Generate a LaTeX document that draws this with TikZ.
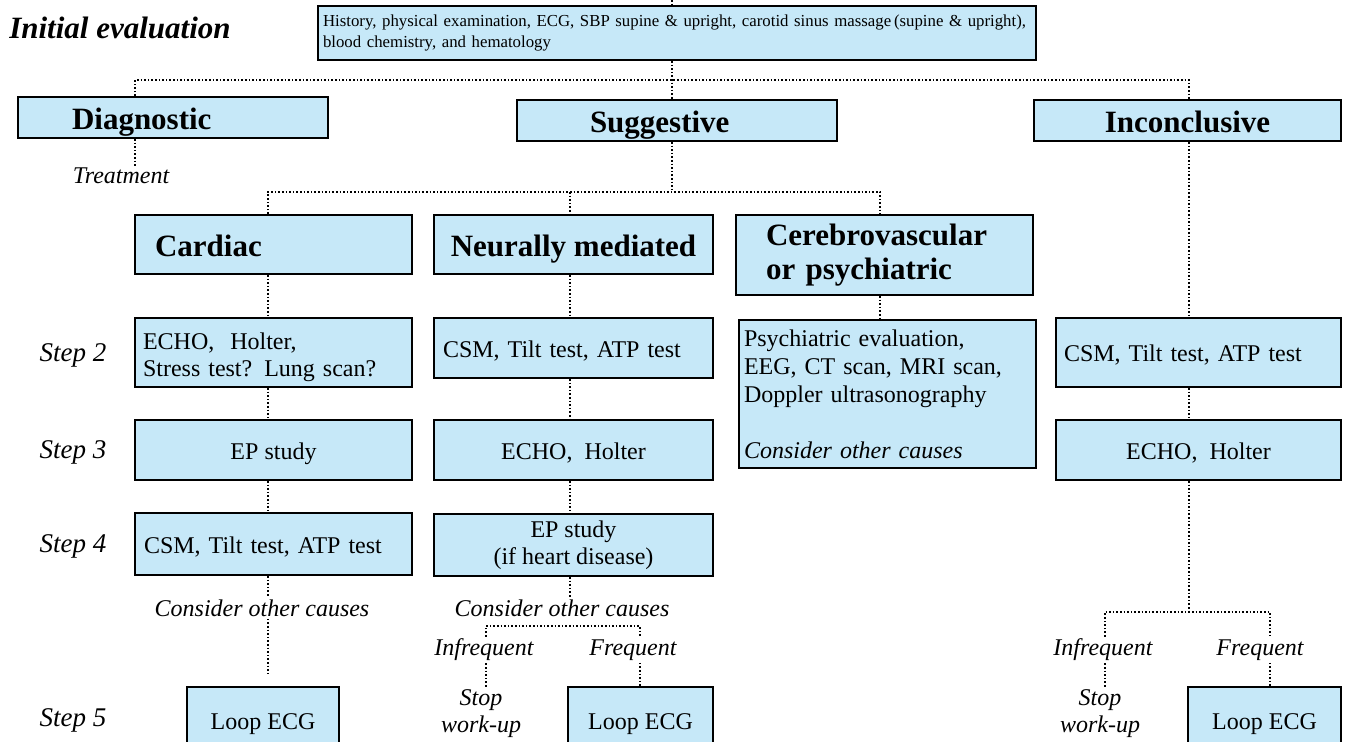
\documentclass[tikz,border=0pt]{standalone}
\usepackage{fontspec}
\setmainfont{Liberation Serif}
\definecolor{boxblue}{RGB}{198,232,248}

\begin{document}
\begin{tikzpicture}[x=0.5pt, y=-0.5pt,
    box/.style={draw, line width=1pt, fill=boxblue, inner ysep=0pt, font=\fontsize{12}{13.5}\selectfont},
    oneline/.style={text height=9.4pt, text depth=0pt},
    head/.style={box, font=\fontsize{15.5}{17}\selectfont\bfseries},
    headone/.style={head, text height=11.8pt, text depth=0pt},
    lab/.style={inner sep=1pt, font=\fontsize{12}{13.5}\selectfont\itshape},
    steplab/.style={inner sep=1pt, font=\fontsize{13.5}{15}\selectfont\itshape},
    link/.style={densely dotted, line width=0.8pt}]

\path[use as bounding box] (0,0) rectangle (1352,742);
\clip (0,0) rectangle (1352,742);

% Initial evaluation
\node[inner sep=1pt, font=\fontsize{15.5}{17}\selectfont\bfseries\itshape] (initlab) at (120,28) {Initial evaluation};
\node[box, font=\fontsize{8.4}{10.5}\selectfont, align=left, text width=354pt, inner xsep=2.5pt, minimum height=27pt] (init) at (677,33)
    {History, physical examination, ECG, SBP supine \& upright, carotid sinus massage\,(supine \& upright),\\blood chemistry, and hematology};

% First split
\coordinate (top) at (672,0);
\coordinate (j1) at (672,80);
\coordinate (j1l) at (135,80);
\coordinate (j1r) at (1189,80);

\node[headone, align=left, text width=101pt, inner xsep=27pt, minimum height=20.5pt] (diag) at (173,117.5) {Diagnostic};
\node[headone, align=left, text width=87pt, inner xsep=36.5pt, minimum height=20.5pt] (sugg) at (677,120.5) {Suggestive};
\node[headone, minimum width=153.5pt, minimum height=20.5pt] (inconc) at (1187.5,120.5) {Inconclusive};
\node[lab] (treat) at (121,176) {Treatment};

\draw[link] (top) -- (init.north -| top);
\draw[link] (init.south -| top) -- (sugg.north -| top);
\draw[link] (j1l |- diag.north) -- (j1l) -- (j1r) -- (j1r |- inconc.north);
\draw[link] (j1l |- diag.south) -- (j1l |- treat.north);

% Second split
\coordinate (j2) at (672,192);
\coordinate (j2a) at (268,192);
\coordinate (j2b) at (570,192);
\coordinate (j2c) at (880,192);

\node[headone, align=left, text width=118.5pt, inner xsep=10pt, minimum height=29.5pt] (cardiac) at (273.5,244.5) {Cardiac};
\node[headone, minimum width=139.5pt, minimum height=29.5pt] (neural) at (573.5,244.5) {Neurally mediated};
\node[head, align=left, text width=118.5pt, inner xsep=15pt, minimum height=40pt] (cere) at (884.5,255) {Cerebrovascular\\or psychiatric};

\draw[link] (sugg.south -| j2) -- (j2);
\draw[link] (j2a |- cardiac.north) -- (j2a) -- (j2c) -- (j2c |- cere.north);
\draw[link] (j2b) -- (j2b |- neural.north);

% Step labels
\node[steplab] (s2) at (73,355) {Step 2};
\node[steplab] (s3) at (73,452) {Step 3};
\node[steplab] (s4) at (73,546) {Step 4};
\node[steplab] (s5) at (73,720) {Step 5};

% Step 2
\node[box, align=left, text width=130.5pt, inner xsep=4pt, minimum height=34.5pt, text height=9.4pt, text depth=12.6pt] (c2) at (273.5,352.5) {ECHO,\ \ Holter,\\Stress test? Lung scan?};
\node[box, oneline, align=left, text width=130.5pt, inner xsep=4.5pt, minimum height=30pt] (n2) at (573.5,348) {CSM, Tilt test, ATP test};
\node[box, font=\fontsize{12}{14}\selectfont, align=left, text width=143.5pt, inner xsep=2.5pt, minimum height=74pt] (p2) at (887.5,394)
    {Psychiatric evaluation,\\EEG, CT scan, MRI scan,\\Doppler ultrasonography\\[14pt]\textit{Consider other causes}};
\node[box, oneline, align=left, text width=134.5pt, inner xsep=4pt, minimum height=34.5pt] (i2) at (1198.5,352.5) {CSM, Tilt test, ATP test};

% Step 3
\node[box, oneline, minimum width=138.5pt, minimum height=30pt] (c3) at (273.5,450) {EP study};
\node[box, oneline, minimum width=139.5pt, minimum height=30pt] (n3) at (573.5,450) {ECHO,\ \ Holter};
\node[box, oneline, minimum width=142.5pt, minimum height=30pt] (i3) at (1198.5,450) {ECHO,\ \ Holter};

% Step 4
\node[box, oneline, align=left, text width=129.5pt, inner xsep=4.5pt, minimum height=31pt] (c4) at (273.5,544) {CSM, Tilt test, ATP test};
\node[box, align=center, minimum width=139.5pt, minimum height=31pt] (n4) at (573.5,545) {EP study\\(if heart disease)};

% Step 5
\node[box, oneline, minimum width=76pt, minimum height=33pt] (c5) at (263,720) {Loop ECG};
\node[box, oneline, minimum width=72.5pt, minimum height=33pt] (n5) at (640.5,720) {Loop ECG};
\node[box, oneline, minimum width=76.5pt, minimum height=33pt] (i5) at (1264.5,720) {Loop ECG};

% Column links
\foreach \a/\b in {cardiac/c2, c2/c3, c3/c4}
    \draw[link] (\a.south -| j2a) -- (\b.north -| j2a);
\foreach \a/\b in {neural/n2, n2/n3, n3/n4}
    \draw[link] (\a.south -| j2b) -- (\b.north -| j2b);
\draw[link] (cere.south -| j2c) -- (p2.north -| j2c);
\foreach \a/\b in {inconc/i2, i2/i3}
    \draw[link] (\a.south -| j1r) -- (\b.north -| j1r);

% Cardiac tail
\node[lab] (othc) at (262,608) {Consider other causes};
\draw[link] (c4.south -| j2a) -- (othc.north -| j2a);
\draw[link, shorten >=6pt] (othc.south -| j2a) -- (c5.north -| j2a);

% Neurally mediated tail
\coordinate (j4l) at (486,626);
\coordinate (j4r) at (640,626);
\node[lab] (othn) at (562,608) {Consider other causes};
\node[lab] (infn) at (484,650) {Infrequent};
\node[lab] (freqn) at (633,650) {Frequent};
\node[lab, align=center] (stopn) at (481,714) {Stop\\work-up};
\draw[link] (n4.south -| j2b) -- (othn.north -| j2b);
\draw[link] (j4l |- infn.north) -- (j4l) -- (j4r) -- (j4r |- freqn.north);
\draw[link] (infn.south -| j4l) -- (j4l |- stopn.north);
\draw[link] (freqn.south -| j4r) -- (n5.north -| j4r);

% Inconclusive tail
\coordinate (j3) at (1189,612);
\coordinate (j3l) at (1105,612);
\coordinate (j3r) at (1270,612);
\node[lab] (infi) at (1103,650) {Infrequent};
\node[lab] (freqi) at (1260,650) {Frequent};
\node[lab, align=center] (stopi) at (1100,714) {Stop\\work-up};
\draw[link] (i3.south -| j3) -- (j3);
\draw[link] (j3l |- infi.north) -- (j3l) -- (j3r) -- (j3r |- freqi.north);
\draw[link] (infi.south -| j3l) -- (j3l |- stopi.north);
\draw[link] (freqi.south -| j3r) -- (i5.north -| j3r);

\end{tikzpicture}
\end{document}
